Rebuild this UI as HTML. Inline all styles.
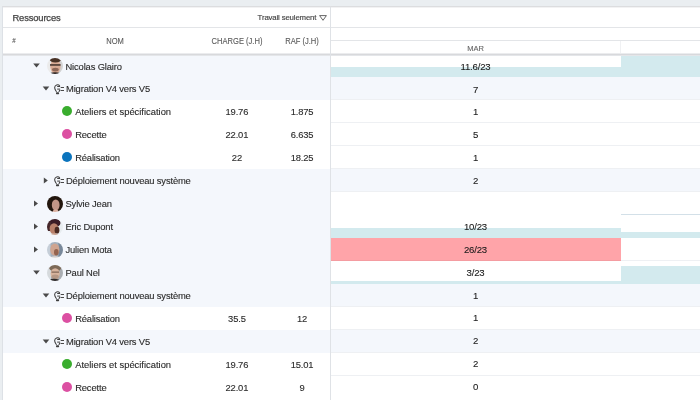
<!DOCTYPE html><html><head><meta charset="utf-8"><style>
*{margin:0;padding:0;box-sizing:border-box}
html,body{width:700px;height:400px;overflow:hidden;background:#eaeef1;font-family:"Liberation Sans",Arial,sans-serif}
.a{position:absolute}
#L{position:absolute;left:2px;top:6px;width:329px;height:394px;background:#fff;border-left:1px solid #dde1e6;border-top:1px solid #dcdddf;border-right:1px solid #dfe2e6;overflow:hidden}
#R{position:absolute;left:331px;top:6px;width:369px;height:394px;background:#fff;border-top:1px solid #dcdddf;overflow:hidden}
.t{position:absolute;white-space:nowrap;font-size:9.4px;letter-spacing:-0.15px;color:#2b2b2b;line-height:23px;height:23px;-webkit-text-stroke:0.12px #2b2b2b}
.h{position:absolute;white-space:nowrap;font-size:8.5px;color:#585858;transform:scaleX(0.89);-webkit-text-stroke:0.1px #585858}
.row{position:absolute;left:0;width:100%;height:23px}
.tri-d{position:absolute;width:0;height:0;border-left:3.5px solid transparent;border-right:3.5px solid transparent;border-top:4px solid #444}
.tri-r{position:absolute;width:0;height:0;border-top:3px solid transparent;border-bottom:3px solid transparent;border-left:4px solid #444}
.dot{position:absolute;width:10px;height:10px;border-radius:50%}
.av{position:absolute;width:16px;height:16px;border-radius:50%;overflow:hidden}
.n{position:absolute;white-space:nowrap;font-size:9.6px;letter-spacing:-0.2px;color:#1a1a1a;line-height:23px;height:23px;text-align:center;-webkit-text-stroke:0.1px #1a1a1a}
</style></head><body>
<div id="L"><div class="a" style="left:0;top:0;width:100%;height:1px;background:#f2f2f3"></div><div class="t" style="left:9.5px;top:1.3000000000000007px;height:20px;line-height:20px;font-size:9.4px;letter-spacing:-0.15px;color:#444;-webkit-text-stroke:0.25px #444">Ressources</div><div class="t" style="right:13.7px;top:1.1999999999999993px;height:20px;line-height:20px;font-size:7.8px;color:#444;-webkit-text-stroke:0.15px #444">Travail seulement</div><svg class="a" style="left:316.3px;top:7.6px" width="8" height="6" viewBox="0 0 8 6"><path d="M0.6 0.6h6.8L4 5.3z" fill="none" stroke="#555" stroke-width="0.9"/></svg><div class="a" style="left:0;top:20px;width:100%;height:1px;background:#e3e5e8"></div><div class="h" style="left:-48.9px;width:120px;text-align:center;top:21px;height:26px;line-height:26px;font-size:7px">#</div><div class="h" style="left:52px;width:120px;text-align:center;top:21px;height:26px;line-height:26px;font-size:8.5px">NOM</div><div class="h" style="left:173.75px;width:120px;text-align:center;top:21px;height:26px;line-height:26px;font-size:8.5px">CHARGE (J.H)</div><div class="h" style="left:239px;width:120px;text-align:center;top:21px;height:26px;line-height:26px;font-size:8.5px">RAF (J.H)</div><div class="a" style="left:0;top:46px;width:100%;height:3px;z-index:3;background:linear-gradient(#ebecee 0 1px,#d8d9dc 1px 2px,#e4e6e9 2px 3px)"></div><div class="row" style="top:47px;height:23px;background:#f4f7fc"></div><svg class="a" style="left:0;top:47px" width="80" height="23"><polygon points="30.20,9.6 36.80,9.6 33.50,13.6" fill="#4a4a4a"/></svg><svg class="a" style="left:43.5px;top:50.5px" width="16" height="16" viewBox="0 0 16 16"><defs><clipPath id="cnico"><circle cx="8" cy="8" r="8"/></clipPath><filter id="fnico" x="-20%" y="-20%" width="140%" height="140%"><feGaussianBlur stdDeviation="0.55"/></filter></defs><g clip-path="url(#cnico)"><g filter="url(#fnico)"><rect width="16" height="16" fill="#d2d2d2"/><rect width="6" height="16" fill="#ebebeb"/><ellipse cx="8.4" cy="8.6" rx="5.2" ry="6.8" fill="#d9ab95"/><ellipse cx="8.4" cy="1.8" rx="5.6" ry="2.8" fill="#4a3327"/><rect x="3" y="6.2" width="10.6" height="1.5" fill="#40312c"/><ellipse cx="8.4" cy="11.6" rx="3.4" ry="1.9" fill="#8d6656"/><ellipse cx="8" cy="17" rx="7" ry="2.8" fill="#2a2220"/></g></g></svg><div class="t" style="left:62.5px;top:47.50px;">Nicolas Glairo</div><div class="row" style="top:70px;height:23px;background:#f4f7fc"></div><svg class="a" style="left:0;top:70px" width="80" height="23"><polygon points="39.70,9.6 46.30,9.6 43.00,13.6" fill="#4a4a4a"/></svg><svg class="a" style="left:49px;top:75.7px" width="14" height="14" viewBox="0 0 14 14"><path d="M4.5 8.9C4.1 7.7 2.65 6.9 2.65 4.6A2.85 2.85 0 0 1 7.8 3" fill="none" stroke="#3e3e3e" stroke-width="1.05"/><path d="M8.1 6.8C7.6 7.6 7.1 8.2 6.9 8.9" fill="none" stroke="#3e3e3e" stroke-width="1.05"/><rect x="4" y="9.3" width="3.1" height="1.9" rx="0.6" fill="#3e3e3e"/><path d="M5.2 3.5h2.9M5.2 6.1h2.9" stroke="#3e3e3e" stroke-width="1"/><path d="M8.7 4.5h3.3M8.7 7.5h3.3" stroke="#3e3e3e" stroke-width="0.95"/></svg><div class="t" style="left:63.0px;top:70.43px;">Migration V4 vers V5</div><div class="row" style="top:93px;height:23px;background:#fff"></div><div class="dot" style="left:59px;top:98.5px;background:#3aad2e"></div><div class="t" style="left:72.2px;top:93.36px;letter-spacing:0;">Ateliers et spécification</div><div class="t" style="left:193.9px;width:80px;text-align:center;top:93.36px">19.76</div><div class="t" style="left:259px;width:80px;text-align:center;top:93.36px">1.875</div><div class="row" style="top:116px;height:23px;background:#fff"></div><div class="dot" style="left:59px;top:121.5px;background:#dc50a2"></div><div class="t" style="left:72.2px;top:116.29px;">Recette</div><div class="t" style="left:193.9px;width:80px;text-align:center;top:116.29px">22.01</div><div class="t" style="left:259px;width:80px;text-align:center;top:116.29px">6.635</div><div class="row" style="top:139px;height:23px;background:#fff"></div><div class="dot" style="left:59px;top:144.5px;background:#0b74bd"></div><div class="t" style="left:72.2px;top:139.22px;">Réalisation</div><div class="t" style="left:193.9px;width:80px;text-align:center;top:139.22px">22</div><div class="t" style="left:259px;width:80px;text-align:center;top:139.22px">18.25</div><div class="row" style="top:162px;height:23px;background:#f4f7fc"></div><svg class="a" style="left:0;top:162px" width="80" height="23"><polygon points="40.80,8.6 44.80,11.6 40.80,14.6" fill="#4a4a4a"/></svg><svg class="a" style="left:49px;top:167.7px" width="14" height="14" viewBox="0 0 14 14"><path d="M4.5 8.9C4.1 7.7 2.65 6.9 2.65 4.6A2.85 2.85 0 0 1 7.8 3" fill="none" stroke="#3e3e3e" stroke-width="1.05"/><path d="M8.1 6.8C7.6 7.6 7.1 8.2 6.9 8.9" fill="none" stroke="#3e3e3e" stroke-width="1.05"/><rect x="4" y="9.3" width="3.1" height="1.9" rx="0.6" fill="#3e3e3e"/><path d="M5.2 3.5h2.9M5.2 6.1h2.9" stroke="#3e3e3e" stroke-width="1"/><path d="M8.7 4.5h3.3M8.7 7.5h3.3" stroke="#3e3e3e" stroke-width="0.95"/></svg><div class="t" style="left:63.0px;top:162.15px;">Déploiement nouveau système</div><div class="row" style="top:185px;height:23px;background:#f4f7fc"></div><svg class="a" style="left:0;top:185px" width="80" height="23"><polygon points="31.00,8.6 35.00,11.6 31.00,14.6" fill="#4a4a4a"/></svg><svg class="a" style="left:43.5px;top:188.5px" width="16" height="16" viewBox="0 0 16 16"><defs><clipPath id="csylvie"><circle cx="8" cy="8" r="8"/></clipPath><filter id="fsylvie" x="-20%" y="-20%" width="140%" height="140%"><feGaussianBlur stdDeviation="0.55"/></filter></defs><g clip-path="url(#csylvie)"><g filter="url(#fsylvie)"><rect width="16" height="16" fill="#22160f"/><ellipse cx="8.7" cy="9" rx="3.9" ry="5.6" fill="#c29686"/><ellipse cx="8.6" cy="16" rx="3" ry="2.6" fill="#ddb2a2"/></g></g></svg><div class="t" style="left:62.5px;top:185.08px;">Sylvie Jean</div><div class="row" style="top:208px;height:23px;background:#f4f7fc"></div><svg class="a" style="left:0;top:208px" width="80" height="23"><polygon points="31.00,8.6 35.00,11.6 31.00,14.6" fill="#4a4a4a"/></svg><svg class="a" style="left:43.5px;top:211.5px" width="16" height="16" viewBox="0 0 16 16"><defs><clipPath id="ceric"><circle cx="8" cy="8" r="8"/></clipPath><filter id="feric" x="-20%" y="-20%" width="140%" height="140%"><feGaussianBlur stdDeviation="0.55"/></filter></defs><g clip-path="url(#ceric)"><g filter="url(#feric)"><rect width="16" height="16" fill="#e8edf0"/><ellipse cx="6.5" cy="4" rx="7" ry="4.6" fill="#3a1d26"/><rect x="0" y="3" width="4" height="9" fill="#45262a"/><ellipse cx="7" cy="9.6" rx="4.4" ry="5.4" fill="#b9806a"/><ellipse cx="10" cy="11.2" rx="2.4" ry="3.4" fill="#4b2c22"/><ellipse cx="7" cy="16.2" rx="4" ry="2" fill="#caa493"/></g></g></svg><div class="t" style="left:62.5px;top:208.01px;">Eric Dupont</div><div class="row" style="top:231px;height:23px;background:#f4f7fc"></div><svg class="a" style="left:0;top:231px" width="80" height="23"><polygon points="31.00,8.6 35.00,11.6 31.00,14.6" fill="#4a4a4a"/></svg><svg class="a" style="left:43.5px;top:234.5px" width="16" height="16" viewBox="0 0 16 16"><defs><clipPath id="cjulien"><circle cx="8" cy="8" r="8"/></clipPath><filter id="fjulien" x="-20%" y="-20%" width="140%" height="140%"><feGaussianBlur stdDeviation="0.55"/></filter></defs><g clip-path="url(#cjulien)"><g filter="url(#fjulien)"><rect width="16" height="16" fill="#a3b0be"/><rect x="11.5" width="4.5" height="16" fill="#78889a"/><rect width="3.5" height="16" fill="#c5ced8"/><ellipse cx="7.8" cy="7.6" rx="4.6" ry="6.2" fill="#cfa591"/><ellipse cx="9.3" cy="10.2" rx="2.3" ry="3.3" fill="#94644f"/><ellipse cx="8" cy="16.6" rx="6" ry="2.4" fill="#e0dad6"/></g></g></svg><div class="t" style="left:62.5px;top:230.94px;">Julien Mota</div><div class="row" style="top:254px;height:23px;background:#f4f7fc"></div><svg class="a" style="left:0;top:254px" width="80" height="23"><polygon points="30.20,9.6 36.80,9.6 33.50,13.6" fill="#4a4a4a"/></svg><svg class="a" style="left:43.5px;top:257.5px" width="16" height="16" viewBox="0 0 16 16"><defs><clipPath id="cpaul"><circle cx="8" cy="8" r="8"/></clipPath><filter id="fpaul" x="-20%" y="-20%" width="140%" height="140%"><feGaussianBlur stdDeviation="0.55"/></filter></defs><g clip-path="url(#cpaul)"><g filter="url(#fpaul)"><rect width="16" height="16" fill="#a9adb2"/><rect width="4" height="16" fill="#d6dadd"/><ellipse cx="8.2" cy="3.2" rx="5.8" ry="3.4" fill="#7d6a58"/><ellipse cx="8.2" cy="8.6" rx="4.6" ry="5.4" fill="#d8b49e"/><rect x="4.5" y="6.6" width="7.5" height="1" fill="#6d5548"/><ellipse cx="8.2" cy="11.8" rx="3.6" ry="2.4" fill="#b69886"/><ellipse cx="7" cy="16.8" rx="7" ry="3" fill="#2f2b2b"/></g></g></svg><div class="t" style="left:62.5px;top:253.87px;">Paul Nel</div><div class="row" style="top:277px;height:23px;background:#f4f7fc"></div><svg class="a" style="left:0;top:277px" width="80" height="23"><polygon points="39.70,9.6 46.30,9.6 43.00,13.6" fill="#4a4a4a"/></svg><svg class="a" style="left:49px;top:282.7px" width="14" height="14" viewBox="0 0 14 14"><path d="M4.5 8.9C4.1 7.7 2.65 6.9 2.65 4.6A2.85 2.85 0 0 1 7.8 3" fill="none" stroke="#3e3e3e" stroke-width="1.05"/><path d="M8.1 6.8C7.6 7.6 7.1 8.2 6.9 8.9" fill="none" stroke="#3e3e3e" stroke-width="1.05"/><rect x="4" y="9.3" width="3.1" height="1.9" rx="0.6" fill="#3e3e3e"/><path d="M5.2 3.5h2.9M5.2 6.1h2.9" stroke="#3e3e3e" stroke-width="1"/><path d="M8.7 4.5h3.3M8.7 7.5h3.3" stroke="#3e3e3e" stroke-width="0.95"/></svg><div class="t" style="left:63.0px;top:276.80px;">Déploiement nouveau système</div><div class="row" style="top:300px;height:23px;background:#fff"></div><div class="dot" style="left:59px;top:305.5px;background:#dc50a2"></div><div class="t" style="left:72.2px;top:299.73px;">Réalisation</div><div class="t" style="left:193.9px;width:80px;text-align:center;top:299.73px">35.5</div><div class="t" style="left:259px;width:80px;text-align:center;top:299.73px">12</div><div class="row" style="top:323px;height:23px;background:#f4f7fc"></div><svg class="a" style="left:0;top:323px" width="80" height="23"><polygon points="39.70,9.6 46.30,9.6 43.00,13.6" fill="#4a4a4a"/></svg><svg class="a" style="left:49px;top:328.7px" width="14" height="14" viewBox="0 0 14 14"><path d="M4.5 8.9C4.1 7.7 2.65 6.9 2.65 4.6A2.85 2.85 0 0 1 7.8 3" fill="none" stroke="#3e3e3e" stroke-width="1.05"/><path d="M8.1 6.8C7.6 7.6 7.1 8.2 6.9 8.9" fill="none" stroke="#3e3e3e" stroke-width="1.05"/><rect x="4" y="9.3" width="3.1" height="1.9" rx="0.6" fill="#3e3e3e"/><path d="M5.2 3.5h2.9M5.2 6.1h2.9" stroke="#3e3e3e" stroke-width="1"/><path d="M8.7 4.5h3.3M8.7 7.5h3.3" stroke="#3e3e3e" stroke-width="0.95"/></svg><div class="t" style="left:63.0px;top:322.66px;">Migration V4 vers V5</div><div class="row" style="top:346px;height:23px;background:#fff"></div><div class="dot" style="left:59px;top:351.5px;background:#3aad2e"></div><div class="t" style="left:72.2px;top:345.59px;letter-spacing:0;">Ateliers et spécification</div><div class="t" style="left:193.9px;width:80px;text-align:center;top:345.59px">19.76</div><div class="t" style="left:259px;width:80px;text-align:center;top:345.59px">15.01</div><div class="row" style="top:369px;height:23px;background:#fff"></div><div class="dot" style="left:59px;top:374.5px;background:#dc50a2"></div><div class="t" style="left:72.2px;top:368.52px;">Recette</div><div class="t" style="left:193.9px;width:80px;text-align:center;top:368.52px">22.01</div><div class="t" style="left:259px;width:80px;text-align:center;top:368.52px">9</div></div>
<div id="R"><div class="a" style="left:0;top:0;width:100%;height:1px;background:#f2f2f3"></div><div class="a" style="left:0;top:20px;width:100%;height:1px;background:#e3e5e8"></div><div class="a" style="left:0;top:33px;width:100%;height:1px;background:#e3e5e8"></div><div class="a" style="left:289px;top:34px;width:1px;height:13px;background:#f0f1f3"></div><div class="h" style="left:0;width:289px;text-align:center;top:34.8px;height:13px;line-height:13px;font-size:7.5px;letter-spacing:0;color:#666;transform:none">MAR</div><div class="a" style="left:0;top:46px;width:100%;height:3px;z-index:3;background:linear-gradient(#ebecee 0 1px,#d8d9dc 1px 2px,#e4e6e9 2px 3px)"></div><div class="row" style="top:47px;height:23px;background:#fff;"></div><div class="a" style="left:0px;width:290px;top:60px;height:10px;background:#d3eaee"></div><div class="a" style="left:290px;width:79px;top:48px;height:22px;background:#d3eaee"></div><div class="n" style="left:0;width:289px;top:47.70px">11.6/23</div><div class="row" style="top:70px;height:23px;background:#f4f7fc;border-bottom:1px solid #eef0f3"></div><div class="n" style="left:0;width:289px;top:70.58px">7</div><div class="row" style="top:93px;height:23px;background:#fff;border-bottom:1px solid #eef0f3"></div><div class="n" style="left:0;width:289px;top:93.46px">1</div><div class="row" style="top:116px;height:23px;background:#fff;border-bottom:1px solid #eef0f3"></div><div class="n" style="left:0;width:289px;top:116.34px">5</div><div class="row" style="top:139px;height:23px;background:#fff;border-bottom:1px solid #eef0f3"></div><div class="n" style="left:0;width:289px;top:139.22px">1</div><div class="row" style="top:162px;height:23px;background:#f4f7fc;border-bottom:1px solid #eef0f3"></div><div class="n" style="left:0;width:289px;top:162.10px">2</div><div class="row" style="top:185px;height:23px;background:#fff;"></div><div class="a" style="left:290px;width:79px;top:207px;height:1px;background:#d3e0e8"></div><div class="row" style="top:208px;height:23px;background:#fff;"></div><div class="a" style="left:0px;width:290px;top:221px;height:10px;background:#d3eaee"></div><div class="a" style="left:290px;width:79px;top:225px;height:6px;background:#d3eaee"></div><div class="n" style="left:0;width:289px;top:207.86px">10/23</div><div class="row" style="top:231px;height:23px;background:#fff;"></div><div class="a" style="left:0px;width:290px;top:231px;height:23px;background:#ffa4a9"></div><div class="a" style="left:0px;width:290px;top:253px;height:1px;background:#f49ca1"></div><div class="a" style="left:290px;width:79px;top:253px;height:1px;background:#eef0f3"></div><div class="n" style="left:0;width:289px;top:230.74px">26/23</div><div class="row" style="top:254px;height:23px;background:#fff;"></div><div class="a" style="left:0px;width:290px;top:274px;height:3px;background:#d3eaee"></div><div class="a" style="left:290px;width:79px;top:259px;height:18px;background:#d3eaee"></div><div class="n" style="left:0;width:289px;top:253.62px">3/23</div><div class="row" style="top:277px;height:23px;background:#f4f7fc;border-bottom:1px solid #eef0f3"></div><div class="n" style="left:0;width:289px;top:276.50px">1</div><div class="row" style="top:300px;height:23px;background:#fff;border-bottom:1px solid #eef0f3"></div><div class="n" style="left:0;width:289px;top:299.38px">1</div><div class="row" style="top:323px;height:23px;background:#f4f7fc;border-bottom:1px solid #eef0f3"></div><div class="n" style="left:0;width:289px;top:322.26px">2</div><div class="row" style="top:346px;height:23px;background:#fff;border-bottom:1px solid #eef0f3"></div><div class="n" style="left:0;width:289px;top:345.14px">2</div><div class="row" style="top:369px;height:23px;background:#fff;"></div><div class="n" style="left:0;width:289px;top:368.02px">0</div></div>
</body></html>
